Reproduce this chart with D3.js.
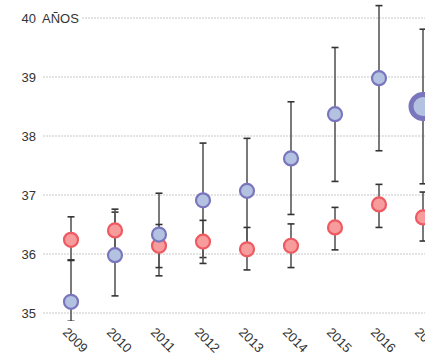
<!DOCTYPE html>
<html lang="es">
<head>
<meta charset="UTF-8">
<title>Edad</title>
<script src="https://d3js.org/d3.v7.min.js"></script>
<style>
  body { margin: 0; background: #fff; }
  text { font-family: "Liberation Sans", Arial, sans-serif; fill: #333; }
</style>
</head>
<body>
<div id="chart"></div>
<script>
// data
var years = ["2009", "2010", "2011", "2012", "2013", "2014", "2015", "2016", "2017"];

var blueMid  = [35.19, 35.98, 36.33, 36.91, 37.07, 37.62, 38.37, 38.98, 38.50];
var blueLow  = [34.86, 35.29, 35.63, 35.94, 36.18, 36.67, 37.23, 37.75, 37.19];
var blueHigh = [35.89, 36.71, 37.03, 37.88, 37.96, 38.58, 39.50, 40.21, 39.81];

var redMid  = [36.24, 36.40, 36.14, 36.21, 36.08, 36.14, 36.45, 36.84, 36.62];
var redLow  = [35.90, 36.04, 35.77, 35.84, 35.73, 35.77, 36.07, 36.45, 36.22];
var redHigh = [36.63, 36.76, 36.50, 36.57, 36.45, 36.51, 36.79, 37.18, 37.05];

var yTicks = [35, 36, 37, 38, 39, 40];

var width = 425, height = 353;

var svg = d3.select("#chart").append("svg")
    .attr("width", width)
    .attr("height", height);

var x = d3.scalePoint()
    .domain(years)
    .range([71, 423]);

var y = d3.scaleLinear()
    .domain([35, 40])
    .range([313, 18]);

// grid + labels
var grid = svg.append("g");
yTicks.forEach(function (t) {
  var startX = t === 40 ? 82 : 43;
  grid.append("line")
      .attr("x1", startX).attr("x2", width)
      .attr("y1", y(t)).attr("y2", y(t))
      .attr("stroke", "#c8c8c8")
      .attr("stroke-width", 1)
      .attr("stroke-dasharray", "2,1");
  grid.append("text")
      .attr("x", 36).attr("y", y(t))
      .attr("dy", "0.35em")
      .attr("text-anchor", "end")
      .style("font-size", "13px")
      .text(t);
});
grid.append("text")
    .attr("x", 42).attr("y", y(40))
    .attr("dy", "0.35em")
    .style("font-size", "13px")
    .text("AÑOS");

// x labels (the bottom edge cuts them, as in the original)
svg.append("g").selectAll("text")
    .data(years)
    .enter().append("text")
    .attr("transform", function (d) { return "translate(" + (x(d) - 9) + ",333) rotate(45)"; })
    .style("font-size", "13px")
    .text(function (d) { return d; });

svg.append("clipPath").attr("id", "plot")
  .append("rect").attr("x", 0).attr("y", 0).attr("width", width).attr("height", 321);

var plot = svg.append("g").attr("clip-path", "url(#plot)");

function errorBars(low, high) {
  var g = plot.append("g");
  years.forEach(function (yr, i) {
    var cx = x(yr);
    g.append("line")
        .attr("x1", cx).attr("x2", cx)
        .attr("y1", y(low[i])).attr("y2", y(high[i]))
        .attr("stroke", "#585858").attr("stroke-width", 1.6);
    [low[i], high[i]].forEach(function (v) {
      g.append("line")
          .attr("x1", cx - 3.5).attr("x2", cx + 3.5)
          .attr("y1", y(v)).attr("y2", y(v))
          .attr("stroke", "#333").attr("stroke-width", 1.6);
    });
  });
}

errorBars(blueLow, blueHigh);
errorBars(redLow, redHigh);

// red dots
plot.append("g").selectAll("circle")
    .data(redMid)
    .enter().append("circle")
    .attr("cx", function (d, i) { return x(years[i]); })
    .attr("cy", function (d) { return y(d); })
    .attr("r", 7)
    .attr("fill", "#f79c9c")
    .attr("stroke", "#ee5a62")
    .attr("stroke-width", 2.2);

// blue dots, last one highlighted
plot.append("g").selectAll("circle")
    .data(blueMid)
    .enter().append("circle")
    .attr("cx", function (d, i) { return x(years[i]); })
    .attr("cy", function (d) { return y(d); })
    .attr("r", function (d, i) { return i === years.length - 1 ? 12 : 7; })
    .attr("fill", "#b4c2e2")
    .attr("stroke", "#7a76be")
    .attr("stroke-width", function (d, i) { return i === years.length - 1 ? 5 : 2.2; });
</script>
</body>
</html>
